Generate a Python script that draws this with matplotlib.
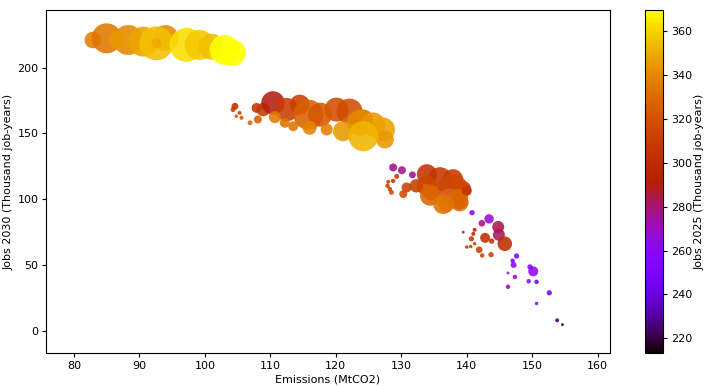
import numpy as np
import matplotlib.pyplot as plt

# emissions (MtCO2), jobs 2030, bubble area, jobs 2025 (colour)
emissions = [
    82.9, 85.0, 88.3, 86.7, 94.0, 90.6, 92.6, 92.6, 97.2, 99.2, 101.0, 103.0, 104.3,
    104.3, 105.3, 104.8, 105.6, 106.9, 104.6, 107.9, 108.9, 108.1, 110.4, 114.5, 122.1,
    112.5, 120.1, 115.8, 117.6, 110.7, 112.2, 113.5, 116.0, 118.6, 124.2, 123.7, 125.7,
    121.1, 127.2, 127.5, 124.2,
    128.75, 130.1, 131.7, 129.3, 128.75, 128.0, 127.9, 128.25, 128.5, 130.8, 130.3, 132.3,
    133.9, 135.9, 137.9, 139.45, 133.9, 137.9, 134.6, 134.4, 136.4, 138.7, 140.0, 138.9, 136.9,
    140.8, 142.3, 143.4, 144.8, 144.9, 145.8, 142.8, 143.8, 140.7, 139.45, 141.2, 141.0,
    140.0, 140.6, 141.2, 141.9, 142.35, 143.7, 147.6, 147.0, 147.15, 146.3, 147.35, 149.65,
    150.15, 149.45, 150.65, 146.3, 152.6, 150.65, 153.8, 154.6,
]
jobs_2030 = [
    220.9, 222.2, 220.9, 220.9, 222.4, 219.7, 218.4, 218.4, 217.2, 217.2, 215.9, 213.4, 211.1,
    168.0, 165.5, 163.0, 161.8, 158.0, 170.5, 169.3, 168.0, 160.5, 173.1, 171.8, 166.5,
    168.0, 168.0, 164.2, 164.2, 162.3, 158.0, 155.4, 154.2, 152.9, 160.5, 158.0, 156.7,
    151.6, 152.9, 145.3, 147.8,
    124.0, 121.9, 118.4, 117.2, 113.8, 113.1, 110.1, 107.6, 105.1, 108.8, 103.8, 110.1,
    118.9, 115.1, 115.1, 107.6, 110.1, 107.6, 105.1, 102.5, 96.2, 100.0, 106.3, 97.5, 96.2,
    89.6, 81.6, 84.9, 78.8, 72.8, 66.0, 70.5, 68.0, 69.8, 74.8, 76.6, 73.5,
    63.5, 63.9, 66.0, 61.45, 57.1, 57.7, 56.7, 53.1, 49.9, 43.8, 40.8, 48.4,
    45.0, 37.5, 37.0, 33.3, 28.7, 20.6, 7.8, 4.5,
]
area = [
    69, 225, 225, 81, 169, 225, 289, 25, 289, 225, 169, 225, 169,
    6, 4, 3, 4, 6, 12, 25, 45, 16, 137, 100, 169,
    137, 144, 225, 144, 36, 25, 25, 49, 36, 100, 169, 144,
    100, 144, 81, 225,
    16, 16, 12, 6, 5, 4, 5, 5, 6, 25, 16, 45,
    100, 144, 100, 64, 100, 225, 64, 100, 100, 100, 25, 81, 64,
    7, 11, 22, 36, 36, 53, 25, 7, 7, 2, 4, 4,
    3, 3, 3, 11, 5, 7, 7, 5, 9, 2, 5, 7,
    25, 5, 5, 5, 7, 3, 4, 2,
]
jobs_2025 = [
    336, 334, 340, 345, 340, 348, 355, 350, 362, 357, 355, 370, 370,
    310, 312, 318, 318, 328, 300, 305, 308, 325, 290, 312, 318,
    310, 318, 326, 322, 335, 333, 333, 338, 336, 333, 340, 344,
    345, 347, 345, 352,
    277, 277, 277, 305, 308, 310, 312, 312, 315, 312, 318, 310,
    304, 306, 308, 308, 315, 316, 325, 328, 333, 330, 305, 328, 333,
    255, 277, 268, 283, 283, 300, 302, 300, 305, 285, 290, 295,
    305, 305, 305, 310, 312, 310, 252, 250, 262, 262, 270, 255,
    262, 262, 242, 275, 247, 252, 225, 213,
]

plt.rcParams['font.size'] = 8
plt.rcParams['xtick.major.size'] = 3
plt.rcParams['ytick.major.size'] = 3
plt.rcParams['xtick.major.pad'] = 2.5
plt.rcParams['ytick.major.pad'] = 2.5
plt.rcParams['axes.labelpad'] = 2.5

fig = plt.figure(figsize=(7.04, 3.86), dpi=100)
ax = fig.add_axes([0.0653, 0.085, 0.801, 0.889])
cax = fig.add_axes([0.916, 0.085, 0.026, 0.889])

sc = ax.scatter(emissions, jobs_2030, s=np.array(area) * 2.07, c=jobs_2025,
                cmap='gnuplot', vmin=213.2, vmax=369.6, alpha=0.88, linewidths=0)

ax.set_xlim(75.74, 161.85)
ax.set_ylim(-17.2, 243.7)
ax.set_xticks(range(80, 161, 10))
ax.set_yticks(range(0, 201, 50))
ax.set_xlabel('Emissions (MtCO2)')
ax.set_ylabel('Jobs 2030 (Thousand job-years)')

cb = fig.colorbar(sc, cax=cax)
cb.set_ticks(range(220, 361, 20))
cb.set_label('Jobs 2025 (Thousand job-years)', labelpad=2)
cb.solids.set_alpha(1)

fig.savefig('out.png', dpi=100)
